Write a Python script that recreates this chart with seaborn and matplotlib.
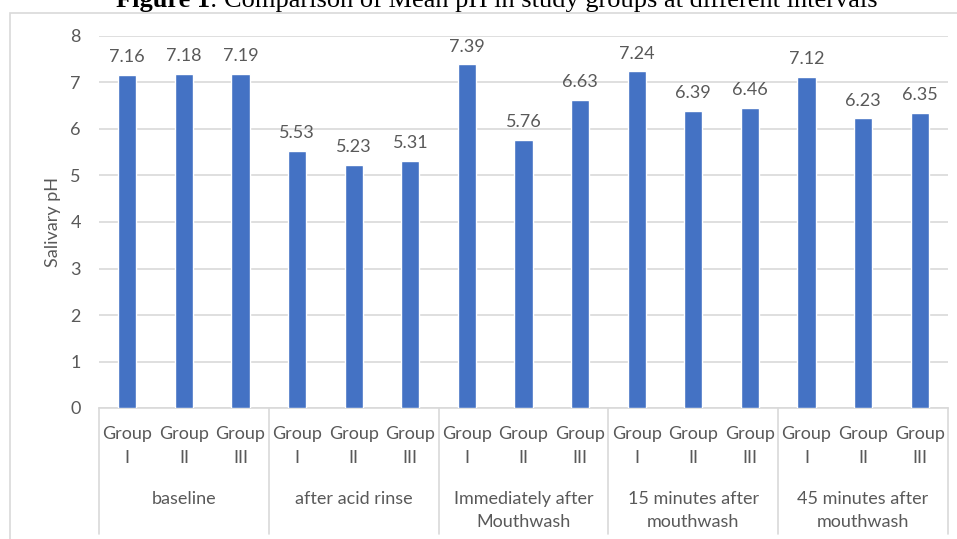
import pandas as pd
import matplotlib.pyplot as plt
import seaborn as sns
from matplotlib.patches import Rectangle

# Chart data
intervals = ['baseline', 'after acid rinse', 'Immediately after\nMouthwash',
             '15 minutes after\nmouthwash', '45 minutes after\nmouthwash']
groups = ['Group\nI', 'Group\nII', 'Group\nIII']
group_i = [7.16, 5.53, 7.39, 7.24, 7.12]
group_ii = [7.18, 5.23, 5.76, 6.39, 6.23]
group_iii = [7.19, 5.31, 6.63, 6.46, 6.35]
y_ticks = [0, 1, 2, 3, 4, 5, 6, 7, 8]

BLUE = '#4472C4'
GRID = '#D9D9D9'
TEXT = '#595959'
FONT = 'Lato'
FS = 13


def main():
    rows = []
    for k, interval in enumerate(intervals):
        for g, vals in zip(groups, [group_i, group_ii, group_iii]):
            rows.append({'pos': f'{k}-{g}', 'interval': interval, 'group': g, 'ph': vals[k]})
    df = pd.DataFrame(rows)

    sns.set_style('white')
    plt.rcParams['font.family'] = [FONT, 'DejaVu Sans']

    W, H = 957, 539
    fig = plt.figure(figsize=(W / 100, H / 100), dpi=100)
    ax = fig.add_axes([99 / W, (H - 408) / H, (948 - 99) / W, (408 - 36) / H])

    # outer chart frame
    fig.patches.append(Rectangle((10 / W, -0.1), 2.0, 1.1 - 13 / H, transform=fig.transFigure,
                                 fill=False, edgecolor=GRID, linewidth=1.2))

    sns.barplot(data=df, x='pos', y='ph', color=BLUE, width=0.32, saturation=1,
                ax=ax, zorder=3, order=df['pos'])

    ax.set_ylim(0, 8)
    ax.set_xlim(-0.5, len(df) - 0.5)
    ax.set_yticks(y_ticks)
    ax.tick_params(axis='y', length=0, pad=13, labelsize=FS, labelcolor=TEXT)
    ax.set_xticks([])
    ax.set_xlabel('')
    ax.set_ylabel('Salivary pH', fontsize=FS, color=TEXT, labelpad=7)
    ax.yaxis.grid(True, color=GRID, linewidth=1.2, zorder=0)
    for s in ['top', 'right', 'left']:
        ax.spines[s].set_visible(False)
    ax.spines['bottom'].set_color(GRID)
    ax.spines['bottom'].set_linewidth(1.2)
    ax.set_facecolor('none')

    # data labels
    for i, v in enumerate(df['ph']):
        ax.annotate(f'{v:.2f}', (i, v), xytext=(0, 7), textcoords='offset points',
                    ha='center', va='bottom', fontsize=FS, color=TEXT)

    # multi-level category axis
    for i, g in enumerate(df['group']):
        ax.annotate(g, (i, 0), xycoords=('data', 'axes fraction'), xytext=(0, -13),
                    textcoords='offset points', ha='center', va='top', fontsize=FS,
                    color=TEXT, linespacing=1.6, annotation_clip=False)
    for k, interval in enumerate(intervals):
        ax.annotate(interval, (3 * k + 1, 0), xycoords=('data', 'axes fraction'),
                    xytext=(0, -60), textcoords='offset points', ha='center', va='top',
                    fontsize=FS, color=TEXT, linespacing=1.5, annotation_clip=False)
    for b in [-0.5, 2.5, 5.5, 8.5, 11.5, 14.5]:
        ax.plot([b, b], [0, -0.34], transform=ax.get_xaxis_transform(), color=GRID,
                linewidth=1.2, clip_on=False)

    # title, partly cut off at the top as in the source figure
    fig.text(210 / W, 1 - 7 / H, 'Figure 1', ha='right', va='baseline', fontsize=19,
             fontweight='bold', family='Liberation Serif', color='black')
    fig.text(210 / W, 1 - 7 / H, ': Comparison of Mean pH in study groups at different intervals',
             ha='left', va='baseline', fontsize=19, family='Liberation Serif', color='black')

    fig.savefig('out.png', dpi=100, facecolor='white')
    plt.close(fig)


if __name__ == '__main__':
    main()
